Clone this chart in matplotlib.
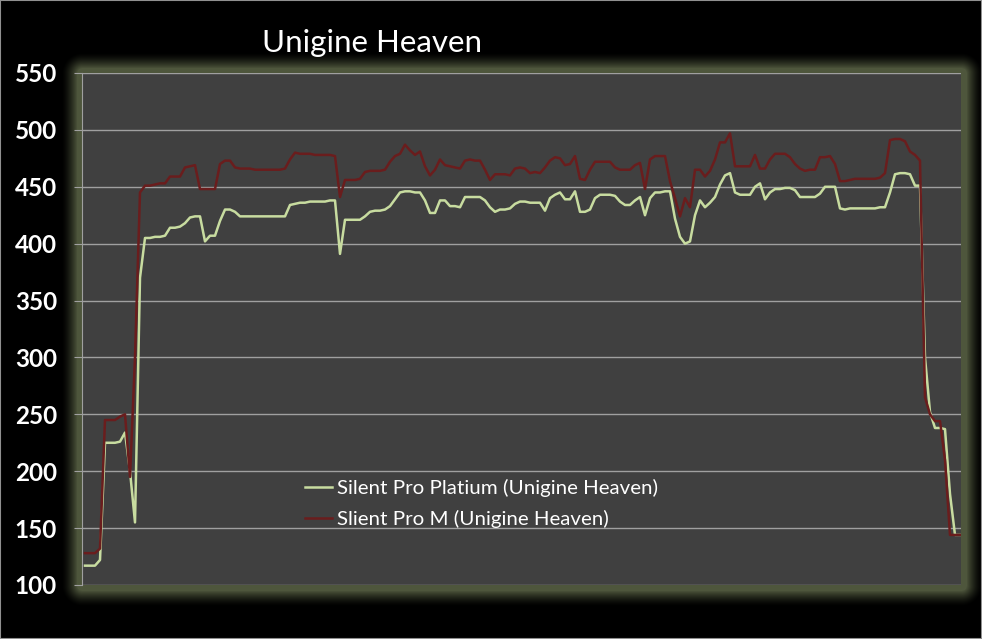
import numpy as np
import matplotlib.pyplot as plt
from matplotlib.patches import Rectangle

# samples (one every ~5 px in the reference)
platinum = [117, 117, 117, 122, 225, 225, 225, 226, 234, 200,
            155, 370, 405, 405, 406, 406, 407, 414, 414, 415,
            418, 423, 424, 424, 402, 407, 407, 420, 430, 430,
            428, 424, 424, 424, 424, 424, 424, 424, 424, 424,
            424, 434, 435, 436, 436, 437, 437, 437, 437, 438,
            438, 391, 421, 421, 421, 421, 424, 428, 429, 429,
            430, 433, 439, 445, 446, 446, 445, 445, 438, 427,
            427, 438, 438, 433, 433, 432, 441, 441, 441, 441,
            438, 432, 428, 430, 430, 431, 435, 437, 437, 436,
            436, 436, 429, 440, 443, 445, 439, 439, 446, 428,
            428, 430, 440, 443, 443, 443, 442, 437, 434, 434,
            438, 441, 425, 440, 445, 445, 446, 446, 422, 406,
            400, 402, 425, 438, 432, 436, 441, 452, 460, 462,
            445, 443, 443, 443, 450, 453, 439, 445, 448, 448,
            449, 449, 447, 441, 441, 441, 441, 444, 450, 450,
            450, 431, 430, 431, 431, 431, 431, 431, 431, 432,
            432, 445, 461, 462, 462, 461, 451, 451, 300, 252,
            238, 238, 237, 180, 144, 144]

pro_m = [128, 128, 128, 132, 245, 245, 245, 248, 250, 195,
         300, 445, 451, 451, 452, 453, 453, 459, 459, 459,
         467, 468, 469, 448, 448, 448, 448, 470, 473, 473,
         467, 466, 466, 466, 465, 465, 465, 465, 465, 465,
         466, 474, 480, 479, 479, 479, 478, 478, 478, 478,
         477, 441, 456, 456, 456, 457, 463, 464, 464, 464,
         465, 472, 477, 479, 487, 482, 478, 481, 468, 460,
         465, 474, 469, 468, 467, 466, 473, 474, 473, 473,
         465, 456, 461, 461, 461, 460, 466, 467, 466, 462,
         463, 462, 467, 473, 476, 475, 469, 470, 477, 457,
         456, 465, 472, 472, 472, 472, 467, 465, 465, 465,
         469, 471, 448, 474, 477, 477, 477, 455, 440, 424,
         440, 432, 465, 465, 459, 464, 474, 489, 489, 497,
         468, 468, 468, 468, 478, 466, 466, 474, 479, 479,
         479, 476, 470, 466, 464, 465, 465, 476, 476, 477,
         470, 455, 455, 456, 457, 457, 457, 457, 457, 458,
         462, 491, 492, 492, 490, 481, 478, 473, 265, 250,
         244, 244, 210, 144, 144, 144]

labels = ['Silent Pro Platium (Unigine Heaven)', 'Slient Pro M (Unigine Heaven)']
yticks = [100, 150, 200, 250, 300, 350, 400, 450, 500, 550]

W, H = 982, 639
L, R, T, B = 82, 961, 73, 585  # plot area in pixels

fig = plt.figure(figsize=(W / 100, H / 100), dpi=100, facecolor='black')

# glow around plot area
yy, xx = np.mgrid[0:H, 0:W]
dx = np.maximum(np.maximum(L - xx, xx - R), 0)
dy = np.maximum(np.maximum(T - yy, yy - B), 0)
d = np.hypot(dx, dy)
a = np.clip(1 - (d - 5) / 16, 0, 1) ** 1.5
glow = np.zeros((H, W, 4))
glow[..., 0] = 78 / 255
glow[..., 1] = 86 / 255
glow[..., 2] = 60 / 255
glow[..., 3] = a
fig.figimage(glow[::-1], 0, 0, zorder=-5, origin='lower')

ax = fig.add_axes([L / W, (H - B) / H, (R - L) / W, (B - T) / H])
ax.set_zorder(2)
ax.set_facecolor('#404040')

x = np.arange(len(platinum))
ax.plot(x, platinum, color='#c8dca0', lw=1.8, label=labels[0], zorder=3)
ax.plot(x, pro_m, color='#6a1d1d', lw=1.8, label=labels[1], zorder=3)

ax.set_xlim(-0.6, 175.2)
ax.set_ylim(100, 550)
ax.set_yticks(yticks)
ax.set_xticks([])
ax.grid(axis='y', color='#a0a0a0', lw=1)
ax.set_axisbelow(True)
for s in ['top', 'right', 'bottom']:
    ax.spines[s].set_visible(False)
ax.spines['left'].set_color('#a0a0a0')
ax.tick_params(axis='y', length=6, color='#a0a0a0', pad=12,
               labelcolor='white', labelsize=17.5)
for t in ax.get_yticklabels():
    t.set_fontfamily('Lato')
    t.set_fontweight('bold')

fig.text(262 / W, 1 - 43 / H, 'Unigine Heaven', color='white', fontsize=22.5,
         family='Lato', ha='left', va='center')

leg = ax.legend(loc='upper left', bbox_to_anchor=(287 / W, 1 - 461 / H),
                bbox_transform=fig.transFigure, frameon=False,
                prop={'family': 'Lato', 'size': 14.75}, handlelength=1.3,
                handletextpad=0.25, labelspacing=0.6)
for t in leg.get_texts():
    t.set_color('white')

fig.patches.append(Rectangle((0, 0), 1, 1, transform=fig.transFigure,
                             fill=False, edgecolor='#909090', lw=1.5))

fig.savefig('out.png', dpi=100, facecolor='black')
